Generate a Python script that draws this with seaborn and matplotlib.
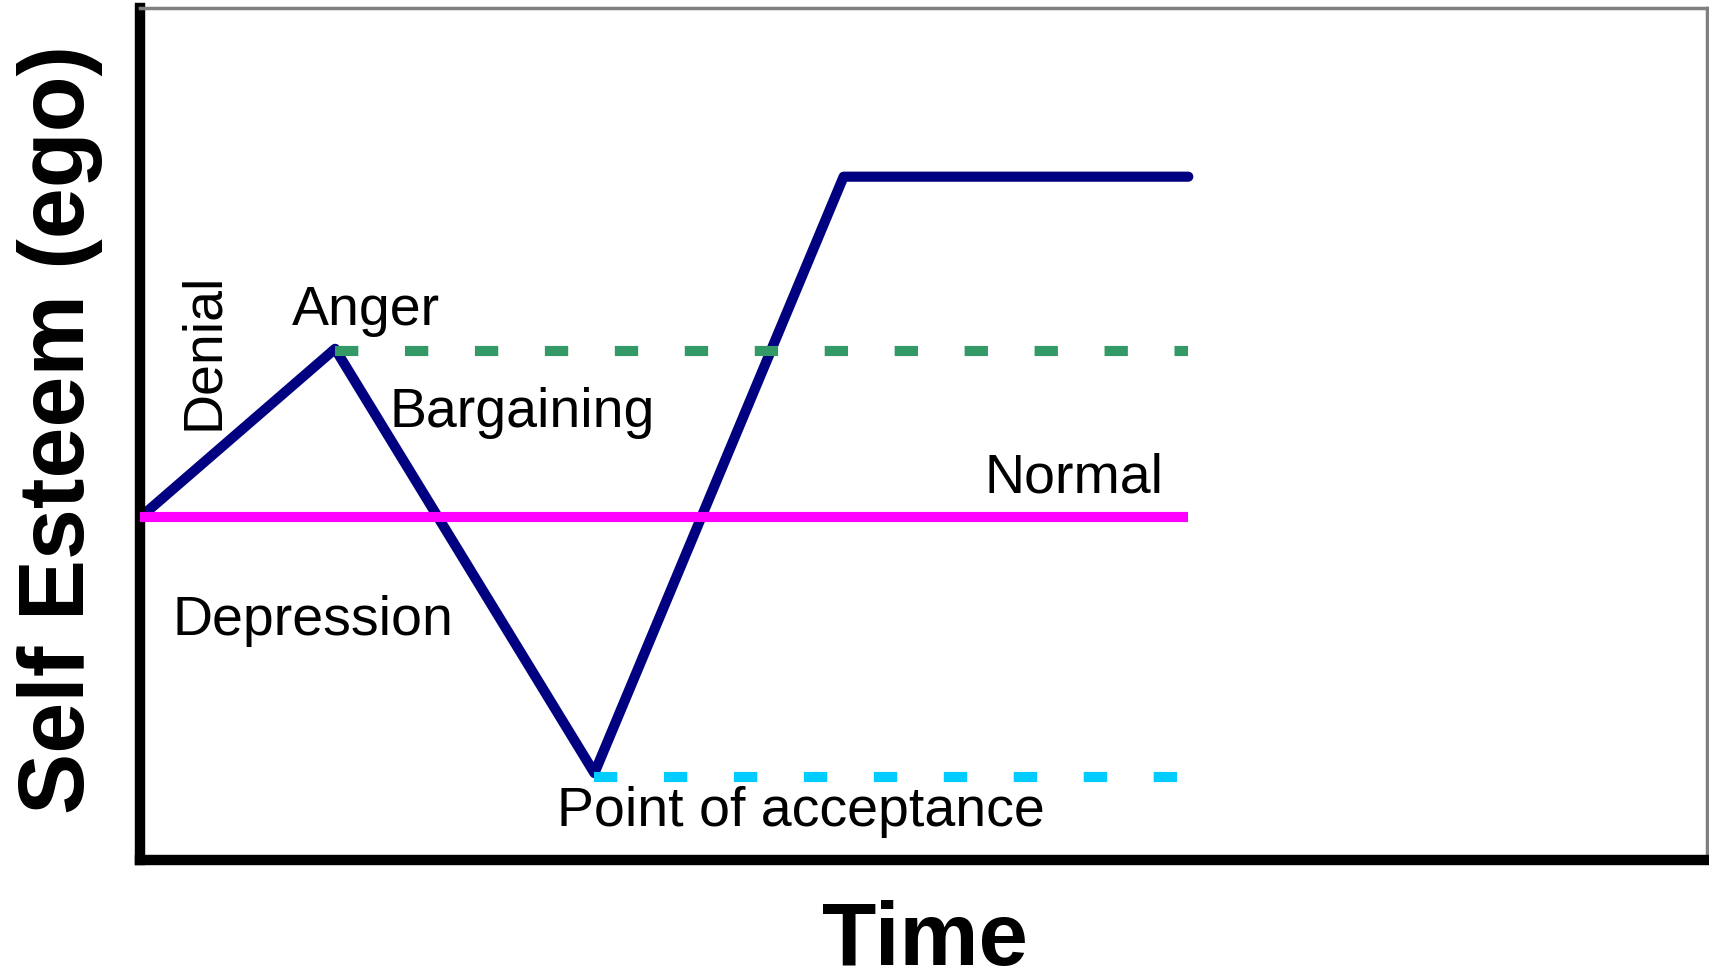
import matplotlib.pyplot as plt
import seaborn as sns
import pandas as pd

sns.set_style("white")
plt.rcParams['font.family'] = ['Liberation Sans', 'DejaVu Sans']
plt.rcParams['text.color'] = 'black'
plt.rcParams['axes.labelcolor'] = 'black'

# grief curve (time, self esteem)
curve_time = [0.02, 1.245, 2.90, 4.49, 6.69]
curve_ego = [4.05, 6.00, 1.02, 8.02, 8.02]

# reference levels
normal_level = 4.03
anger_level = 5.97
acceptance_level = 0.97
end_time = 6.69
anger_time = 1.245
acceptance_time = 2.90

# stage labels: text, x, y, ha, rotation
labels = [
    ("Anger", 1.44, 6.44, "center", 0),
    ("Bargaining", 1.59, 5.25, "left", 0),
    ("Normal", 6.53, 4.48, "right", 0),
    ("Depression", 0.21, 2.81, "left", 0),
    ("Point of acceptance", 4.22, 0.56, "center", 0),
    ("Denial", 0.41, 5.97, "center", 90),
]

df = pd.DataFrame({"time": curve_time, "ego": curve_ego})

fig = plt.figure(figsize=(17.09, 9.77), dpi=100)
ax = fig.add_axes([140 / 1709, 1 - 860 / 977, 1567 / 1709, 852 / 977])

sns.lineplot(data=df, x="time", y="ego", sort=False, color="#000080",
             linewidth=7.3, ax=ax, zorder=2)
ax.plot([0, end_time], [normal_level, normal_level], color="#FF00FF",
        linewidth=7.3, solid_capstyle="butt", zorder=3)
ax.plot([anger_time, end_time], [anger_level, anger_level], color="#339966",
        linewidth=7.3, dashes=(2.3, 4.6), dash_capstyle="butt", zorder=3)
ax.plot([acceptance_time, end_time], [acceptance_level, acceptance_level],
        color="#00CCFF", linewidth=7.3, dashes=(2.3, 4.6), dash_capstyle="butt",
        zorder=3)

for text, x, y, ha, rot in labels:
    ax.text(x, y, text, fontsize=40, ha=ha, va="center", rotation=rot,
            color="black")

ax.set_xlim(0, 10)
ax.set_ylim(0, 10)
ax.set_xticks([])
ax.set_yticks([])

ax.set_xlabel("Time", fontsize=64, fontweight="bold", va="center")
ax.set_ylabel("Self Esteem (ego)", fontsize=66, fontweight="bold", va="center")
ax.xaxis.set_label_coords(0.501, -0.096)
ax.yaxis.set_label_coords(-0.051, 0.505)

for side in ["left", "bottom"]:
    ax.spines[side].set_color("black")
    ax.spines[side].set_linewidth(7.5)
for side in ["top", "right"]:
    ax.spines[side].set_color("#808080")
    ax.spines[side].set_linewidth(2.5)

fig.savefig("out.png", dpi=100)
